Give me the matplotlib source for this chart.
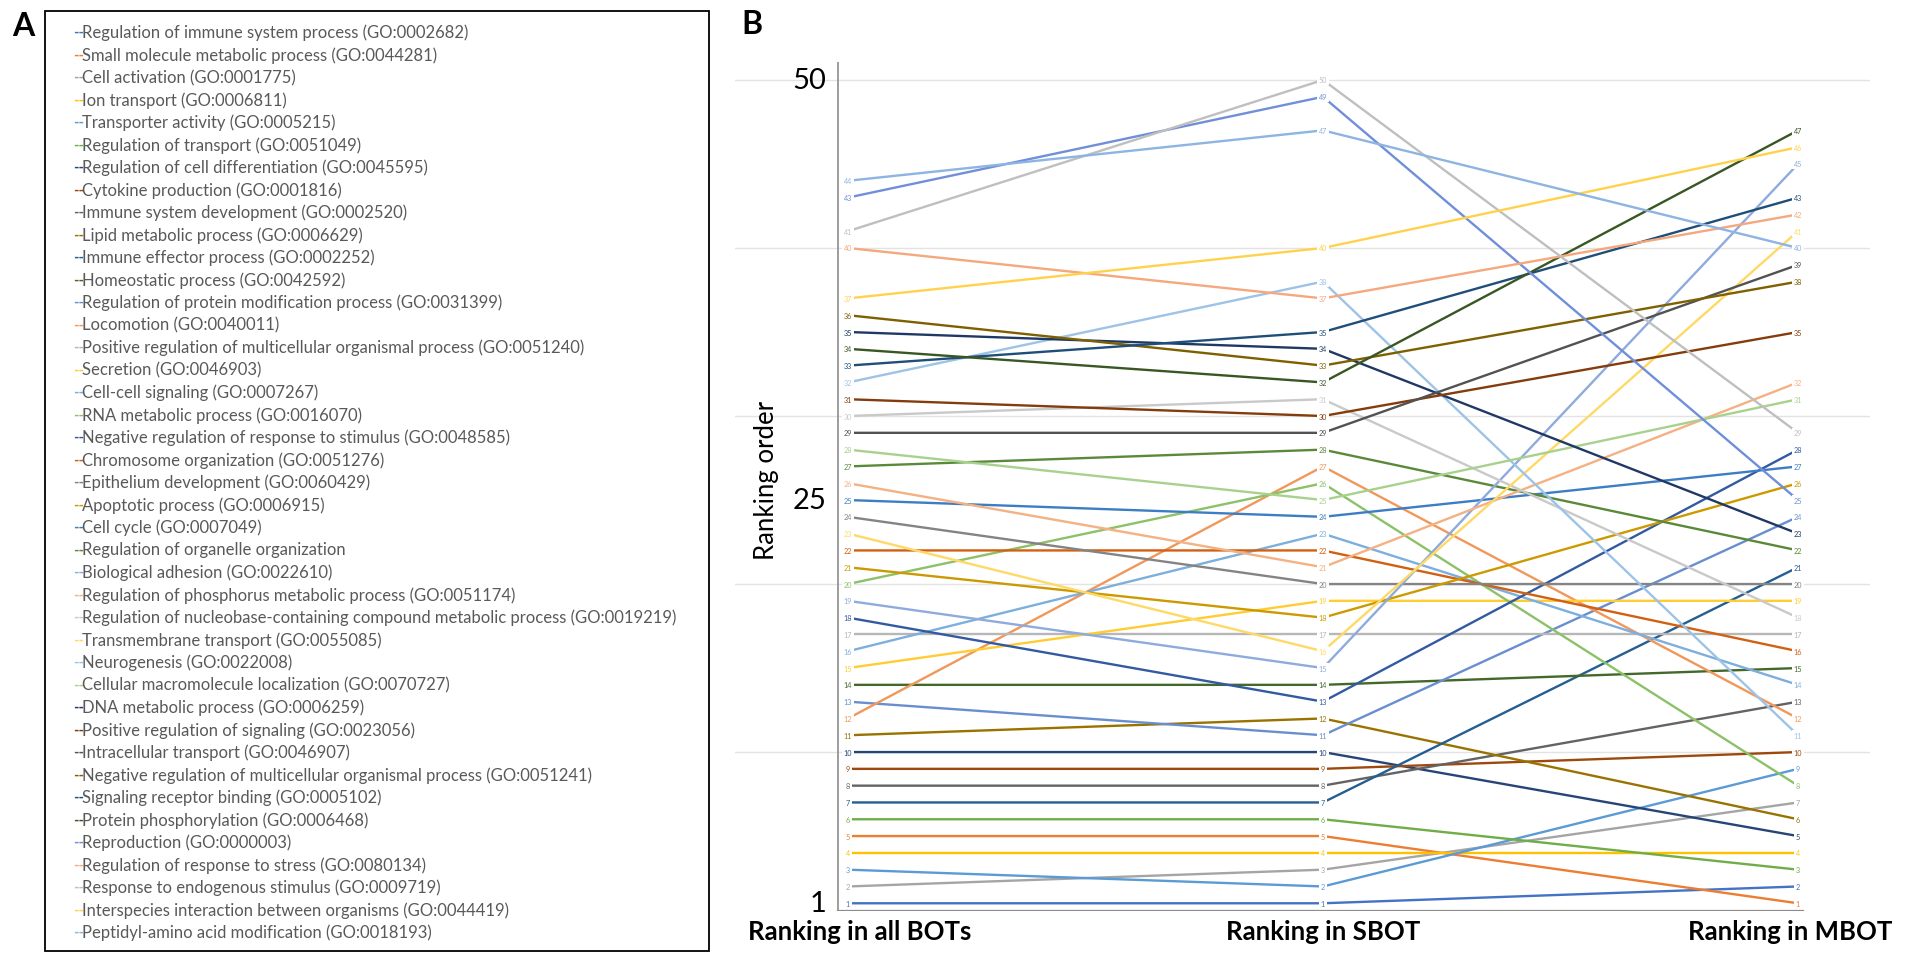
import matplotlib
matplotlib.use("Agg")
import matplotlib.pyplot as plt
import matplotlib.transforms as mtransforms

plt.rcParams['font.family'] = ['Lato', 'DejaVu Sans']

W, H = 1908, 954

# GO terms, in legend order
terms = [
    "Regulation of immune system process (GO:0002682)",
    "Small molecule metabolic process (GO:0044281)",
    "Cell activation (GO:0001775)",
    "Ion transport (GO:0006811)",
    "Transporter activity (GO:0005215)",
    "Regulation of transport (GO:0051049)",
    "Regulation of cell differentiation (GO:0045595)",
    "Cytokine production (GO:0001816)",
    "Immune system development (GO:0002520)",
    "Lipid metabolic process (GO:0006629)",
    "Immune effector process (GO:0002252)",
    "Homeostatic process (GO:0042592)",
    "Regulation of protein modification process (GO:0031399)",
    "Locomotion (GO:0040011)",
    "Positive regulation of multicellular organismal process (GO:0051240)",
    "Secretion (GO:0046903)",
    "Cell-cell signaling (GO:0007267)",
    "RNA metabolic process (GO:0016070)",
    "Negative regulation of response to stimulus (GO:0048585)",
    "Chromosome organization (GO:0051276)",
    "Epithelium development (GO:0060429)",
    "Apoptotic process (GO:0006915)",
    "Cell cycle (GO:0007049)",
    "Regulation of organelle organization",
    "Biological adhesion (GO:0022610)",
    "Regulation of phosphorus metabolic process (GO:0051174)",
    "Regulation of nucleobase-containing compound metabolic process (GO:0019219)",
    "Transmembrane transport (GO:0055085)",
    "Neurogenesis (GO:0022008)",
    "Cellular macromolecule localization (GO:0070727)",
    "DNA metabolic process (GO:0006259)",
    "Positive regulation of signaling (GO:0023056)",
    "Intracellular transport (GO:0046907)",
    "Negative regulation of multicellular organismal process (GO:0051241)",
    "Signaling receptor binding (GO:0005102)",
    "Protein phosphorylation (GO:0006468)",
    "Reproduction (GO:0000003)",
    "Regulation of response to stress (GO:0080134)",
    "Response to endogenous stimulus (GO:0009719)",
    "Interspecies interaction between organisms (GO:0044419)",
    "Peptidyl-amino acid modification (GO:0018193)",
]

colors = [
    '#4472C4', '#ED7D31', '#A5A5A5', '#FFC000', '#5B9BD5', '#70AD47',
    '#264478', '#9E480E', '#636363', '#997300', '#255E91', '#43682B',
    '#698ED0', '#F1975A', '#B7B7B7', '#FFCD33', '#7CAFDD', '#8CC168',
    '#335AA1', '#D26012', '#848484', '#CC9A00', '#3C7DC4', '#5A8A39',
    '#8FAADC', '#F4B183', '#C9C9C9', '#FFD966', '#9DC3E6', '#A9D18E',
    '#203864', '#843C0C', '#525252', '#7F6000', '#1F4E79', '#385723',
    '#6F8FD9', '#F5A87E', '#BFBFBF', '#FFD24D', '#8DB4E2',
]

rank_all = [1, 5, 2, 4, 3, 6, 10, 9, 8, 11, 7, 14, 13, 12, 17, 15, 16, 20, 18, 22, 24,
            21, 25, 27, 19, 26, 30, 23, 32, 28, 35, 31, 29, 36, 33, 34, 43, 40, 41, 37, 44]
rank_sbot = [1, 5, 3, 4, 2, 6, 10, 9, 8, 12, 7, 14, 11, 27, 17, 19, 23, 26, 13, 22, 20,
             18, 24, 28, 15, 21, 31, 16, 38, 25, 34, 30, 29, 33, 35, 32, 49, 37, 50, 40, 47]
rank_mbot = [2, 1, 7, 4, 9, 3, 5, 10, 13, 6, 21, 15, 24, 12, 17, 19, 14, 8, 28, 16, 20,
             26, 27, 22, 45, 32, 18, 41, 11, 31, 23, 35, 39, 38, 43, 47, 25, 42, 29, 46, 40]

columns = ["Ranking in all BOTs", "Ranking in SBOT", "Ranking in MBOT"]
y_labels = [1, 25, 50]
grid_vals = [10, 20, 30, 40, 50]


def fx(px):
    return px / W


def fy(py):
    return 1 - py / H


fig = plt.figure(figsize=(W / 100, H / 100), dpi=100)

# ---- Panel A: legend box ----
fig.text(fx(23), fy(26), "A", fontsize=23, fontweight='bold', ha='center', va='center')
box = plt.Rectangle((fx(45), fy(952)), fx(709) - fx(45), fy(12) - fy(952),
                    transform=fig.transFigure, fill=False, edgecolor='black', linewidth=1.3)
fig.add_artist(box)
for i, (t, c) in enumerate(zip(terms, colors)):
    yy = fy(33 + i * 22.5)
    fig.text(fx(73), yy, "--", color=c, fontsize=10.5, fontweight='bold', ha='left', va='center')
    fig.text(fx(82), yy, t, color='#595959', fontsize=12, ha='left', va='center')

# ---- Panel B: slope chart ----
fig.text(fx(752), fy(24), "B", fontsize=23, fontweight='bold', ha='center', va='center')

px_unit = 475.0
ax = fig.add_axes([fx(735), fy(912), fx(1870) - fx(735), fy(63) - fy(912)])
ax.set_xlim(-(848 - 735) / px_unit, 2 + (1870 - 1798) / px_unit)
ax.set_ylim(0.54, 51.07)
for s in ax.spines.values():
    s.set_visible(False)

ax.set_yticks([])
ax.set_yticks(grid_vals, minor=True)
ax.tick_params(axis='y', which='both', length=0, labelleft=False)
ax.grid(which='minor', axis='y', color='#E3E3E3', linewidth=1.0)
ax.set_axisbelow(True)

x_axis = -10 / px_unit
ax.axvline(x_axis, color='#8C8C8C', linewidth=1.2, zorder=1)
ax.axhline(0.54, xmin=(838 - 735) / 1135, xmax=(1803 - 735) / 1135,
           color='#8C8C8C', linewidth=1.6, zorder=1)

xs = [0, 1, 2]
for c, a, s, m in zip(colors, rank_all, rank_sbot, rank_mbot):
    ys = [a, s, m]
    ax.plot(xs, ys, color=c, linewidth=1.7, zorder=2, solid_capstyle='butt')
    for x, y in zip(xs, ys):
        ax.text(x, y, str(y), color=c, fontsize=5.2, ha='center', va='center', zorder=3,
                bbox=dict(boxstyle='square,pad=0.25', fc='white', ec='none'))

for v in y_labels:
    ax.text(-22 / px_unit, v, str(v), fontsize=21, ha='right', va='center')

fig.text(fx(767), fy(480), "Ranking order", fontsize=18.5, rotation=90, ha='center', va='center')

ax.set_xticks(xs)
ax.set_xticklabels(columns, fontsize=18.5, fontweight='bold')
ax.tick_params(axis='x', length=0, pad=6)
lbls = ax.get_xticklabels()
lbls[0].set_transform(lbls[0].get_transform() +
                      mtransforms.ScaledTranslation(0.12, 0, fig.dpi_scale_trans))
lbls[2].set_horizontalalignment('right')
lbls[2].set_transform(lbls[2].get_transform() +
                      mtransforms.ScaledTranslation(0.94, 0, fig.dpi_scale_trans))

fig.savefig("out.png", dpi=100)
